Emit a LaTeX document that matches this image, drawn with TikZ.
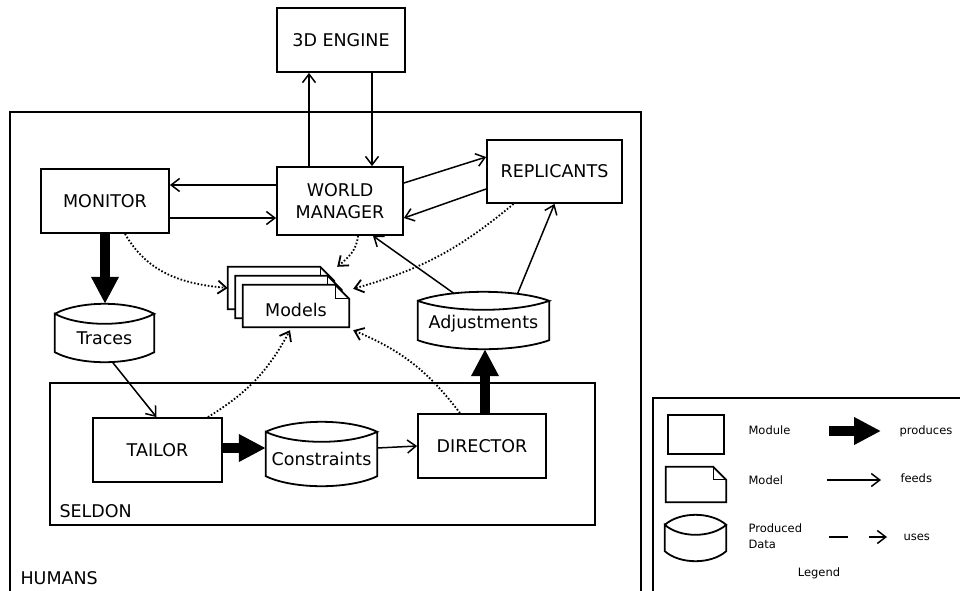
\documentclass[tikz,border=0pt]{standalone}
\usepackage{fontspec}
\setmainfont{DejaVu Sans}
\usetikzlibrary{arrows.meta,calc}
\pgfdeclarelayer{background}
\pgfsetlayers{background,main}

\tikzset{
  boxline/.style={line width=1.8pt},
  module/.style={draw, line width=1.8pt, inner sep=0pt},
  plain/.style={draw=none, inner sep=0pt},
  feed/.style={line width=1.5pt, -{Straight Barb[length=8.5pt,width=13pt]}},
  uses/.style={line width=1.8pt, dash pattern=on 1.6pt off 1.9pt, -{Straight Barb[length=8.5pt,width=13pt]}},
  produce/.style={line width=10pt, -{Triangle[length=27pt,width=26pt]}},
  mainfont/.style={font=\fontsize{17.5}{22}\selectfont},
  legfont/.style={font=\fontsize{11.5}{16}\selectfont},
}
\newcommand\lowertext[2]{\raisebox{-#1pt}[\height][\depth]{#2}}

% document (model) shape drawn on a node's border
\newcommand\drawdoc[2]{%
  \draw[boxline,fill=white,line join=miter] (#1.north west) -- ([xshift=-#2pt]#1.north east) -- ([yshift=-#2pt]#1.north east) -- (#1.south east) -- (#1.south west) -- cycle;
  \draw[line width=1pt] ([xshift=-#2pt]#1.north east) |- ([yshift=-#2pt]#1.north east);
}
% produced-data shape drawn on a node's border: name, width, arc height
\newcommand\drawstore[3]{%
  \draw[boxline,line join=miter]
   ([yshift=-#3pt]#1.north west) .. controls +({0.25*#2pt},{1.3333*#3pt}) and +({-0.25*#2pt},{1.3333*#3pt}) .. ([yshift=-#3pt]#1.north east)
   .. controls +({-0.25*#2pt},{-1.3333*#3pt}) and +({0.25*#2pt},{-1.3333*#3pt}) .. ([yshift=-#3pt]#1.north west)
   -- ([yshift=#3pt]#1.south west)
   .. controls +({0.25*#2pt},{-1.3333*#3pt}) and +({-0.25*#2pt},{-1.3333*#3pt}) .. ([yshift=#3pt]#1.south east)
   -- ([yshift=-#3pt]#1.north east);
}

\begin{document}
\begin{tikzpicture}[x=1pt,y=-1pt,mainfont]
\useasboundingbox (0,0) rectangle (960,590);
\begin{pgfonlayer}{background}
  \fill[white] (0,0) rectangle (960,590);
\end{pgfonlayer}
\clip (0,0) rectangle (960,590);

% containers
\draw[line width=1.8pt] (10,600) -- (10,112) -- (641,112) -- (641,600);
\node[anchor=west] (humanslbl) at (17,578) {HUMANS};
\node[draw, line width=1.8pt, minimum width=545pt, minimum height=142pt] (seldon) at (322.5,454) {};
\node[anchor=west] (seldonlbl) at (56,511) {SELDON};

% modules
\node[module, minimum width=128pt, minimum height=64pt] (engine) at (341,40) {3D ENGINE};
\node[module, minimum width=126pt, minimum height=68pt, align=center] (wm) at (340,201) {WORLD\\MANAGER};
\node[module, minimum width=128pt, minimum height=64pt] (monitor) at (105,201) {MONITOR};
\node[module, minimum width=135pt, minimum height=63pt] (replicants) at (554.5,171.5) {REPLICANTS};
\node[module, minimum width=129pt, minimum height=64pt] (tailor) at (157.5,450) {TAILOR};
\node[module, minimum width=128pt, minimum height=64pt] (director) at (482,446) {DIRECTOR};

% models (stacked documents)
\node[plain, minimum width=106pt, minimum height=42pt] (models3) at (281,288) {};
\node[plain, minimum width=106pt, minimum height=42pt] (models2) at (288.5,297) {};
\node[plain, minimum width=106pt, minimum height=42pt] (models) at (296,306) {\lowertext{4}{Models}};
\begin{pgfonlayer}{background}
  \drawdoc{models3}{14}
  \drawdoc{models2}{14}
  \drawdoc{models}{14}
\end{pgfonlayer}

% produced data
\node[plain, minimum width=99pt, minimum height=58pt] (traces) at (104.5,333) {\lowertext{5}{Traces}};
\drawstore{traces}{99}{10}
\node[plain, minimum width=131pt, minimum height=57pt] (adjust) at (483.5,320.5) {\lowertext{3}{Adjustments}};
\drawstore{adjust}{131}{9}
\node[plain, minimum width=111pt, minimum height=64pt] (constraints) at (321.5,454) {\lowertext{4.5}{Constraints}};
\drawstore{constraints}{111}{10}

% feeds
\draw[feed] ([xshift=-31pt]wm.north) -- ([xshift=-31pt]wm.north |- engine.south);
\draw[feed] ([xshift=31pt]engine.south) -- ([xshift=31pt]engine.south |- wm.north);
\draw[feed] ([yshift=16pt]wm.west) -- ([yshift=16pt]wm.west -| monitor.east);
\draw[feed] ([yshift=-17pt]monitor.east) -- ([yshift=-17pt]monitor.east -| wm.west);
\draw[feed] ([yshift=18pt]wm.east) -- ([yshift=14.5pt]replicants.west);
\draw[feed] ([yshift=-17.5pt]replicants.west) -- ([yshift=-17pt]wm.east);
\draw[feed] ([xshift=34pt,yshift=-2pt]adjust.north) -- (replicants.south);
\draw[feed] ([xshift=-29pt,yshift=-2pt]adjust.north) -- ([xshift=33pt]wm.south);
\draw[feed] ([yshift=2pt]tailor.east -| constraints.east) -- (director.west);
\draw[feed] ([xshift=8pt]traces.south) -- ([xshift=-1pt]tailor.north);

% produces
\draw[produce] (monitor.south) -- (monitor.south |- traces.north);
\draw[produce] ([xshift=3pt]director.north) -- ([xshift=3pt]director.north |- adjust.south);
\draw[produce] ([yshift=2pt]tailor.east) -- ([yshift=2pt]tailor.east -| constraints.west);

% uses
\draw[uses] ([xshift=20pt]monitor.south) to[out=-60,in=175] (models3.west);
\draw[uses] ([xshift=18pt]wm.south) to[out=-95,in=40] ([xshift=3pt]models3.north east);
\draw[uses] ([xshift=-41pt]replicants.south) to[bend left=12] ([xshift=4pt,yshift=-4pt]models.north east);
\draw[uses] ([xshift=-22pt]director.north) to[bend right=15] ([xshift=4pt,yshift=-3pt]models.south east);
\draw[uses] ([xshift=-15pt]tailor.north east) to[bend right=15] ([xshift=-6pt,yshift=-3pt]models.south);

% legend
\draw[line width=2pt] (653,600) -- (653,398) -- (970,398);
\node[module, minimum width=56pt, minimum height=39pt] (lmodule) at (696,434.5) {};
\node[plain, minimum width=60pt, minimum height=35pt] (lmodel) at (696,484.5) {};
\drawdoc{lmodel}{13}
\node[plain, minimum width=61pt, minimum height=46pt] (lstore) at (695.5,538) {};
\drawstore{lstore}{61}{10}
\node[legfont, anchor=west] (tmodule) at (745,430) {Module};
\node[legfont, anchor=west] (tmodel) at (745,480) {Model};
\node[legfont, anchor=west, align=left] (tdata) at (745,536) {Produced\\Data};
\coordinate (pa) at (829,431); \coordinate (pb) at (881,431);
\draw[produce] (pa) -- (pb);
\coordinate (fa) at (827,480); \coordinate (fb) at (881,480);
\draw[feed] (fa) -- (fb);
\coordinate (ua) at (829,537); \coordinate (ub) at (887,537);
\draw[line width=1.5pt, dash pattern=on 19pt off 21pt, -{Straight Barb[length=8.5pt,width=13pt]}] (ua) -- (ub);
\node[legfont, anchor=west] (tproduces) at (896,431) {produces};
\node[legfont, anchor=west] (tfeeds) at (897,478) {feeds};
\node[legfont, anchor=west] (tuses) at (900,537) {uses};
\node[legfont] (tlegend) at (819,573) {Legend};
\end{tikzpicture}
\end{document}
